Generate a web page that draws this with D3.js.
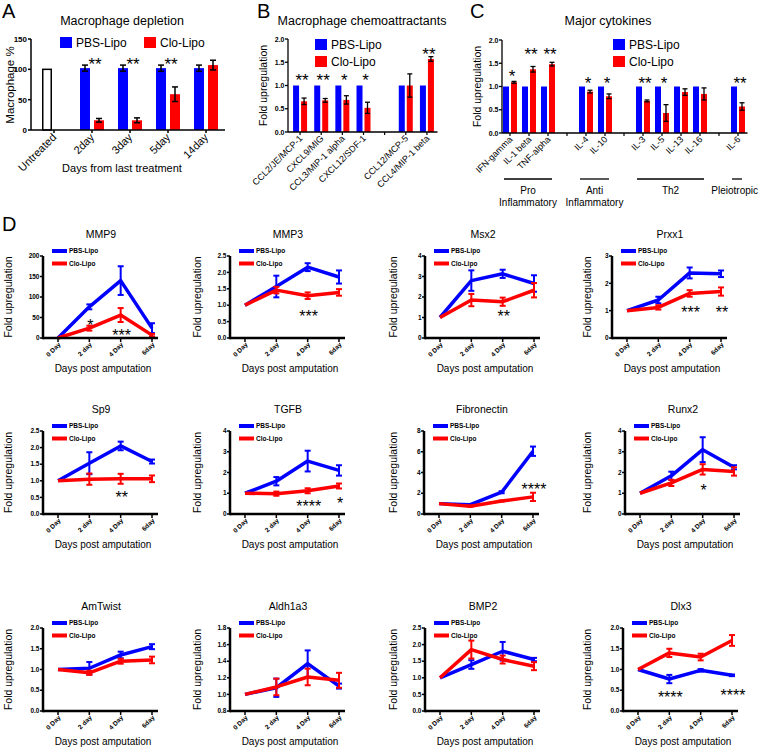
<!DOCTYPE html>
<html><head><meta charset="utf-8">
<script src="https://cdn.jsdelivr.net/npm/d3@7"></script>
<style>body{margin:0;background:#fff} svg{display:block;font-family:"Liberation Sans",Arial,sans-serif}</style>
</head><body><svg id="c" width="760" height="748"></svg>
<script>
// ---------------- DATA ----------------
// Panel A
const aGroups = ["Untreated","2day","3day","5day","14day"];
const aUntreated = 100;
const aPBS = [null,102,102,102,102];
const aPBSErr = [null,5,5,5,5];
const aClo = [null,16,16,59,107];
const aCloErr = [null,3,4,12,8];
const aStars = [null,"**","**","**",null];
const aStarY = [null,115,115,115,null];
const aYTicks = [0,50,100,150];
// Panel B
const bCats = ["CCL2/JE/MCP-1","CXCL9/MIG","CCL3/MIP-1 alpha","CXCL12/SDF-1","","CCL12/MCP-5","CCL4/MIP-1 beta"];
const bPBS = [1,1,1,1,null,1,1];
const bClo = [0.66,0.68,0.69,0.52,null,1.0,1.57];
const bCloErr = [0.07,0.04,0.09,0.12,null,0.25,0.05];
const bStars = ["**","**","*","*",null,null,"**"];
const bStarY = [1.2,1.2,1.2,1.2,null,null,1.76];
// Panel C
const cCats = ["IFN-gamma","IL-1 beta","TNF-alpha","","IL-4","IL-10","","IL-3","IL-5","IL-13","IL-16","","IL-6"];
const cPBS = [1,1,1,null,1,1,null,1,1,1,1,null,1];
const cClo = [1.09,1.37,1.48,null,0.89,0.79,null,0.69,0.43,0.88,0.84,null,0.57];
const cCloErr = [0.02,0.06,0.04,null,0.03,0.05,null,0.02,0.18,0.07,0.13,null,0.08];
const cStars = ["*","**","**",null,"*","*",null,"**","*",null,null,null,"**"];
const cStarY = [1.3,1.78,1.78,null,1.16,1.16,null,1.16,1.16,null,null,null,1.16];
const cGroupNames = [["Pro","Inflammatory"],["Anti","Inflammatory"],["Th2"],["Pleiotropic"]];
const cGroupSpan = [[0,2],[4,5],[7,10],[12,12]];
const abcYTicks = [0,0.5,1.0,1.5,2.0];
// Panel D
const dDays = ["0 Day","2 day","4 Day","6day"];
const dGenes = ["MMP9","MMP3","Msx2","Prxx1","Sp9","TGFB","Fibronectin","Runx2","AmTwist","Aldh1a3","BMP2","Dlx3"];
const dPBS = [
 [0,76,140,24],[1,1.57,2.16,1.86],[1,2.8,3.13,2.66],[1,1.39,2.38,2.35],
 [1,1.53,2.05,1.58],[1,1.58,2.55,2.1],[1,0.9,2.1,6.05],[1,1.84,3.1,2.25],
 [1,1.03,1.35,1.55],[1,1.08,1.37,1.1],[1,1.4,1.8,1.55],[1,0.77,0.98,0.86]];
const dPBSErr = [
 [0,6,35,12],[0,0.33,0.12,0.2],[0,0.5,0.2,0.4],[0,0.12,0.2,0.12],
 [0,0.33,0.13,0.06],[0,0.2,0.5,0.25],[0,0.05,0.1,0.45],[0,0.2,0.6,0.1],
 [0,0.15,0.08,0.06],[0,0.11,0.16,0.03],[0,0.13,0.28,0.05],[0,0.1,0.03,0.02]];
const dClo = [
 [0,24,56,7],[1,1.46,1.29,1.39],[1,1.85,1.77,2.33],[1,1.12,1.63,1.7],
 [1,1.05,1.06,1.06],[1,0.98,1.12,1.35],[1,0.75,1.25,1.65],[1,1.5,2.15,2.05],
 [1,0.92,1.2,1.23],[1,1.09,1.21,1.17],[1,1.85,1.55,1.35],[1,1.4,1.3,1.7]];
const dCloErr = [
 [0,6,17,3],[0,0.1,0.1,0.1],[0,0.3,0.2,0.35],[0,0.08,0.12,0.15],
 [0,0.17,0.15,0.1],[0,0.1,0.12,0.12],[0,0.05,0.05,0.4],[0,0.15,0.25,0.2],
 [0,0.05,0.06,0.08],[0,0.1,0.1,0.09],[0,0.27,0.12,0.12],[0,0.1,0.08,0.13]];
const dYDomain = [[0,200],[0,2.5],[0,4],[0,3],[0,2.5],[0,4],[0,8],[0,4],[0,2],[0.8,1.8],[0,2.5],[0,2]];
const dYTicks = [[0,50,100,150,200],[0,0.5,1,1.5,2,2.5],[0,1,2,3,4],[0,1,2,3],
 [0,0.5,1,1.5,2,2.5],[0,1,2,3,4],[0,2,4,6,8],[0,1,2,3,4],
 [0,0.5,1,1.5,2],[0.8,1,1.2,1.4,1.6,1.8],[0,0.5,1,1.5,2,2.5],[0,0.5,1,1.5,2]];
const dTickFmt = ["d",".1f","d","d",".1f","d","d","d",".1f",".1f",".1f",".1f"];
const dStars = [
 [[1,39,"*"],[2,15,"***"]],[[2,0.76,"***"]],[[2,1.22,"**"]],[[2,1.06,"***"],[3,1.06,"**"]],
 [[2,0.6,"**"]],[[2,0.54,"****"],[3,0.67,"*"]],[[3,2.7,"****"]],[[2,1.31,"*"]],
 [],[],[],[[1,0.41,"****"],[3,0.46,"****"]]];

// ---------------- STYLE / LAYOUT ----------------
const BLUE = "#0000ff", RED = "#ff0000";
const svg = d3.select("#c");
function txt(g,x,y,s,o){const t=g.append("text").attr("x",x).attr("y",y).text(s);for(const k in (o||{}))t.attr(k,o[k]);return t;}
function line(g,x1,y1,x2,y2,col,w){return g.append("line").attr("x1",x1).attr("y1",y1).attr("x2",x2).attr("y2",y2).attr("stroke",col).attr("stroke-width",w);}
function errBar(g,cx,y,v,e,cap,col,w){
  line(g,cx,y(v-e),cx,y(v+e),col,w);
  line(g,cx-cap,y(v+e),cx+cap,y(v+e),col,w);
  line(g,cx-cap,y(v-e),cx+cap,y(v-e),col,w);
}
const STAR = 17;
function star(g,x,yc,s,fs){txt(g,x,yc+0.57*fs,s,{"font-size":fs,"text-anchor":"middle"});}

// ---------------- PANEL A ----------------
(function(){
  const g = svg.append("g");
  txt(g,2,18,"A",{"font-size":20});
  txt(g,122,25,"Macrophage depletion",{"font-size":12.5,"text-anchor":"middle"});
  const axX = 31, x = d3.scaleBand().domain(aGroups).range([35,225]);
  const sub = d3.scaleBand().domain(["PBS","Clo"]).range([-12,12]).paddingInner(0.286);
  const y = d3.scaleLinear().domain([0,150]).range([130,39]);
  aGroups.forEach((k,i)=>{
    const cx = x(k)+x.bandwidth()/2;
    if(i===0){
      g.append("rect").attr("x",cx+sub("PBS")+0.75).attr("y",y(aUntreated)).attr("width",sub.bandwidth()-1.5)
        .attr("height",y(0)-y(aUntreated)).attr("fill","#fff").attr("stroke","#000").attr("stroke-width",1.5);
      return;
    }
    g.append("rect").attr("x",cx+sub("PBS")).attr("y",y(aPBS[i])).attr("width",sub.bandwidth()).attr("height",y(0)-y(aPBS[i])).attr("fill",BLUE);
    g.append("rect").attr("x",cx+sub("Clo")).attr("y",y(aClo[i])).attr("width",sub.bandwidth()).attr("height",y(0)-y(aClo[i])).attr("fill",RED);
    errBar(g,cx+sub("PBS")+sub.bandwidth()/2,y,aPBS[i],aPBSErr[i],3,"#000",1.5);
    errBar(g,cx+sub("Clo")+sub.bandwidth()/2,y,aClo[i],aCloErr[i],3,"#000",1.5);
    if(aStars[i]) star(g,cx+3,y(aStarY[i]),aStars[i],STAR);
  });
  line(g,axX,y(0),225,y(0),"#000",1.5);
  line(g,axX,y(0),axX,y(150),"#000",1.5);
  aYTicks.forEach(t=>{line(g,axX-3,y(t),axX,y(t),"#000",1.5);
    txt(g,axX-4,y(t)+3,t,{"font-size":8,"font-weight":"bold","text-anchor":"end"});});
  aGroups.forEach(k=>{const cx=x(k)+x.bandwidth()/2; line(g,cx,y(0),cx,y(0)+3,"#000",1.5);
    txt(g,0,0,k,{"font-size":11,"text-anchor":"end","transform":`translate(${cx+3},${y(0)+8}) rotate(-45)`});});
  txt(g,0,0,"Macrophage %",{"font-size":11.5,"text-anchor":"middle","transform":"translate(14,85) rotate(-90)"});
  txt(g,122,172,"Days from last treatment",{"font-size":11,"text-anchor":"middle"});
  g.append("rect").attr("x",60).attr("y",37).attr("width",12).attr("height",11).attr("fill",BLUE);
  txt(g,76,47,"PBS-Lipo",{"font-size":12});
  g.append("rect").attr("x",144).attr("y",37).attr("width",12).attr("height",11).attr("fill",RED);
  txt(g,160,47,"Clo-Lipo",{"font-size":12});
})();

// ---------------- BAR PANEL (B, C) ----------------
function barPanel(o){
  const g = svg.append("g");
  txt(g,o.labX,18,o.letter,{"font-size":20});
  txt(g,o.titleX,25,o.title,{"font-size":12.5,"text-anchor":"middle"});
  const idx = o.cats.map((d,i)=>i);
  const x = d3.scaleBand().domain(idx).range(o.range);
  const sub = d3.scaleBand().domain(["PBS","Clo"]).range([-7,7]).paddingInner(0.25);
  const y = d3.scaleLinear().domain([0,2]).range([o.bottom,o.top]);
  idx.forEach(i=>{
    const cx = x(i)+x.bandwidth()/2;
    line(g,cx,y(0),cx,y(0)+3,"#000",1.2);
    if(o.pbs[i]==null) return;
    g.append("rect").attr("x",cx+sub("PBS")).attr("y",y(o.pbs[i])).attr("width",sub.bandwidth()).attr("height",y(0)-y(o.pbs[i])).attr("fill",BLUE);
    g.append("rect").attr("x",cx+sub("Clo")).attr("y",y(o.clo[i])).attr("width",sub.bandwidth()).attr("height",y(0)-y(o.clo[i])).attr("fill",RED);
    errBar(g,cx+sub("Clo")+sub.bandwidth()/2,y,o.clo[i],o.cloErr[i],2.5,"#000",1.3);
    if(o.stars[i]) star(g,cx+2,y(o.starY[i]),o.stars[i],STAR);
    txt(g,0,0,o.cats[i],{"font-size":9,"text-anchor":"end","transform":`translate(${cx+3},${y(0)+7}) rotate(-45)`});
  });
  line(g,o.axX,y(0),o.range[1],y(0),"#000",1.3);
  line(g,o.axX,y(0),o.axX,y(2),"#000",1.3);
  abcYTicks.forEach(t=>{line(g,o.axX-3,y(t),o.axX,y(t),"#000",1.3);
    txt(g,o.axX-3.5,y(t)+2.5,d3.format(".1f")(t),{"font-size":7,"font-weight":"bold","text-anchor":"end"});});
  txt(g,0,0,"Fold upregulation",{"font-size":10.5,"text-anchor":"middle","transform":`translate(${o.axX-21},${(y(0)+y(2))/2}) rotate(-90)`});
  g.append("rect").attr("x",o.legX).attr("y",39).attr("width",12).attr("height",11).attr("fill",BLUE);
  txt(g,o.legX+16,49,"PBS-Lipo",{"font-size":12});
  g.append("rect").attr("x",o.legX).attr("y",56).attr("width",12).attr("height",11).attr("fill",RED);
  txt(g,o.legX+16,66,"Clo-Lipo",{"font-size":12});
  return {g,x};
}
barPanel({letter:"B",labX:257,title:"Macrophage chemoattractants",titleX:362,cats:bCats,pbs:bPBS,clo:bClo,cloErr:bCloErr,
  stars:bStars,starY:bStarY,range:[289.5,437.5],axX:288,top:39,bottom:132,legX:315});
const C = barPanel({letter:"C",labX:470,title:"Major cytokines",titleX:608,cats:cCats,pbs:cPBS,clo:cClo,cloErr:cCloErr,
  stars:cStars,starY:cStarY,range:[500.5,747.5],axX:502,top:40,bottom:133,legX:613});
cGroupSpan.forEach((s,k)=>{
  const x0 = C.x(s[0])+C.x.bandwidth()/2-6, x1 = C.x(s[1])+C.x.bandwidth()/2+4;
  line(C.g,x0,179,x1,179,"#000",1.3);
  cGroupNames[k].forEach((t,j)=>{
    const el = txt(C.g,(x0+x1)/2,194+j*12,t,{"font-size":10,"text-anchor":"middle"});
    const w = el.node().getComputedTextLength();
    if((x0+x1)/2 + w/2 > 758) el.attr("x",758-w/2);
  });
});

// ---------------- PANEL D ----------------
const dAxisX = [[43,230,425,612],[43,230,424,625],[43,230,425,623]];
const dBottom = [338,514,711], dTop = [256,431,628];
const dYLabX = [8,197,393,587];
txt(svg,2,231,"D",{"font-size":20});
dGenes.forEach((gene,i)=>{
  const r = Math.floor(i/4), c = i%4;
  const ax = dAxisX[r][c], bot = dBottom[r], top = dTop[r];
  const g = svg.append("g");
  const x = d3.scalePoint().domain(dDays).range([ax+15,ax+109]);
  const y = d3.scaleLinear().domain(dYDomain[i]).range([bot,top]);
  txt(g,ax+58,top-18,gene,{"font-size":10.5,"text-anchor":"middle"});
  [[dPBS[i],dPBSErr[i],BLUE],[dClo[i],dCloErr[i],RED]].forEach(([vals,errs,col])=>{
    g.append("path").datum(vals).attr("fill","none").attr("stroke",col).attr("stroke-width",3.5).attr("stroke-linejoin","round")
      .attr("d",d3.line().x((d,j)=>x(dDays[j])).y(d=>y(d)));
    vals.forEach((v,j)=>{ if(errs[j]>0) errBar(g,x(dDays[j]),y,v,errs[j],3,col,2); });
  });
  line(g,ax,bot,ax+115,bot,"#000",2.5);
  line(g,ax,bot+1.25,ax,top,"#000",2.5);
  dYTicks[i].forEach(t=>{line(g,ax-3,y(t),ax,y(t),"#000",1.5);
    txt(g,ax-3.5,y(t)+2.2,d3.format(dTickFmt[i])(t),{"font-size":6.5,"font-weight":"bold","text-anchor":"end"});});
  dDays.forEach(d=>{line(g,x(d),bot,x(d),bot+4,"#000",1.5);
    txt(g,0,0,d,{"font-size":6.5,"font-weight":"bold","text-anchor":"end","transform":`translate(${x(d)+3},${bot+7}) rotate(-45)`});});
  txt(g,0,0,"Fold upregulation",{"font-size":10.5,"text-anchor":"middle","transform":`translate(${dYLabX[c]+4},${(top+bot)/2}) rotate(-90)`});
  txt(g,ax+60,bot+34,"Days post amputation",{"font-size":10,"text-anchor":"middle"});
  line(g,ax+9,top-5,ax+24,top-5,BLUE,4);
  txt(g,ax+26,top-2.8,"PBS-Lipo",{"font-size":6.5,"font-weight":"bold"});
  line(g,ax+9,top+7.5,ax+24,top+7.5,RED,4);
  txt(g,ax+26,top+9.7,"Clo-Lipo",{"font-size":6.5,"font-weight":"bold"});
  dStars[i].forEach(([j,v,s])=>star(g,x(dDays[j])+1,y(v),s,16));
});
</script></body></html>
